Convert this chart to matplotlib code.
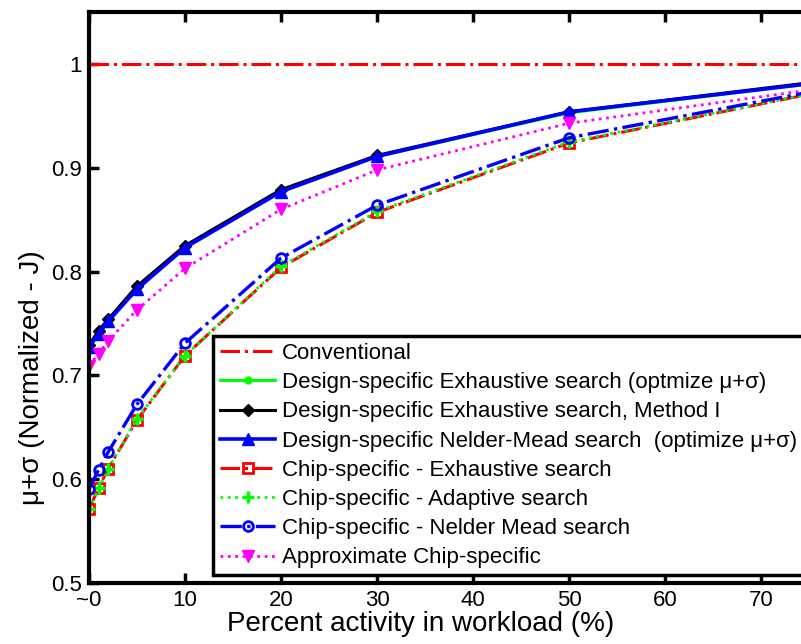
import numpy as np
import matplotlib
matplotlib.use("Agg")
import matplotlib.pyplot as plt

plt.rcParams['font.family'] = ['Liberation Sans', 'DejaVu Sans']

# percent activity in workload
activity = [0, 1, 2, 5, 10, 20, 30, 50, 75, 100]

conventional = [1.0] * len(activity)
design_exh = [0.728, 0.742, 0.753, 0.785, 0.824, 0.878, 0.911, 0.953, 0.981, 1.0]
design_exh_m1 = [0.729, 0.743, 0.754, 0.786, 0.825, 0.879, 0.912, 0.954, 0.982, 1.0]
design_nm = [0.727, 0.740, 0.752, 0.783, 0.823, 0.877, 0.911, 0.954, 0.981, 1.0]
chip_exh = [0.571, 0.591, 0.610, 0.657, 0.719, 0.804, 0.857, 0.924, 0.971, 1.0]
chip_adapt = [0.571, 0.591, 0.610, 0.658, 0.719, 0.805, 0.858, 0.925, 0.971, 1.0]
chip_nm = [0.590, 0.609, 0.626, 0.672, 0.731, 0.813, 0.864, 0.929, 0.973, 1.0]
approx_chip = [0.709, 0.721, 0.733, 0.763, 0.803, 0.860, 0.898, 0.943, 0.975, 1.0]

labels = [
    "Conventional",
    "Design-specific Exhaustive search (optmize \u03bc+\u03c3)",
    "Design-specific Exhaustive search, Method I",
    "Design-specific Nelder-Mead search  (optimize \u03bc+\u03c3)",
    "Chip-specific - Exhaustive search",
    "Chip-specific - Adaptive search",
    "Chip-specific - Nelder Mead search",
    "Approximate Chip-specific",
]

fig = plt.figure(figsize=(8.01, 6.44), dpi=100)
# axes run past the right edge of the picture, as in the reference
ax = fig.add_axes([0.111, 0.095, 1.199, 0.886])

ax.plot(activity, conventional, color='#ff0000', ls='-.', lw=2.2, label=labels[0])
ax.plot(activity, design_exh, color='#00ff00', ls='-', lw=2.2, marker='o', ms=5, label=labels[1])
ax.plot(activity, design_exh_m1, color='black', ls='-', lw=2.2, marker='D', ms=6, label=labels[2])
ax.plot(activity, design_nm, color='#0000ff', ls='-', lw=2.6, marker='^', ms=8, label=labels[3])
ax.plot(activity, chip_exh, color='#ff0000', ls='-.', lw=2.2, marker='s', ms=7, mfc='none', mew=2, label=labels[4])
ax.plot(activity, chip_adapt, color='#00ff00', ls=':', lw=2.0, marker='+', ms=8, mew=2.5, label=labels[5])
ax.plot(activity, chip_nm, color='#0000ff', ls='-.', lw=2.4, marker='o', ms=7, mfc='none', mew=2, label=labels[6])
ax.plot(activity, approx_chip, color='#ff00ff', ls=':', lw=2.0, marker='v', ms=8, label=labels[7])

ax.set_xlim(0, 100)
ax.set_ylim(0.5, 1.05)
# only the ticks that fall inside the picture
ax.set_xticks(np.arange(0, 71, 10))
ax.set_xticklabels(['~0'] + [str(v) for v in range(10, 71, 10)])
ax.set_yticks([0.5, 0.6, 0.7, 0.8, 0.9, 1.0])
ax.set_yticklabels(['0.5', '0.6', '0.7', '0.8', '0.9', '1'])
ax.tick_params(direction='in', length=7, width=2.5, labelsize=16, top=True, right=True, pad=5)

for s in ax.spines.values():
    s.set_linewidth(3)

ax.set_xlabel("Percent activity in workload (%)", fontsize=20)
ax.set_ylabel("\u03bc+\u03c3 (Normalized - J)", fontsize=20)
# label positions as in the (cropped) reference
ax.xaxis.set_label_coords(0.345, -0.05)
ax.yaxis.set_label_coords(-0.046, 0.36)

leg = fig.legend(loc='lower left', bbox_to_anchor=(0.266, 0.107), fontsize=16,
                 frameon=True, fancybox=False, edgecolor='black', framealpha=1,
                 handlelength=2.5, handletextpad=0.3, labelspacing=0.37,
                 borderpad=0.3, borderaxespad=0)
leg.get_frame().set_linewidth(2.5)

fig.savefig("out.png", dpi=100)
